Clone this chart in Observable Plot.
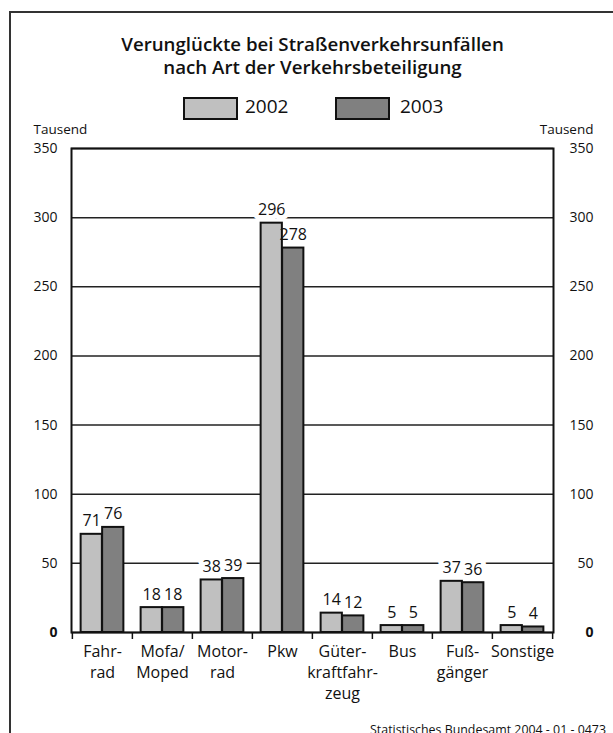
<!DOCTYPE html>
<html>
<head>
<meta charset="utf-8">
<script src="https://cdn.jsdelivr.net/npm/d3@7"></script>
<script src="https://cdn.jsdelivr.net/npm/@observablehq/plot@0.6"></script>
<style>
  body { margin: 0; background: #fff; }
  #page { position: relative; width: 613px; height: 733px; overflow: hidden; background: #fff; font-family: "Open Sans", Lato, sans-serif; color: #111; }
  #frame { position: absolute; left: 9px; top: 11px; width: 700px; height: 800px; border: 2px solid #333; }
  #title { position: absolute; top: 32px; left: 6px; width: 613px; text-align: center; font-size: 18.7px; font-weight: 600; line-height: 23px; }
  .swatch { position: absolute; top: 97px; width: 51px; height: 19px; border: 2px solid #111; }
  .legtext { position: absolute; top: 94px; font-size: 19px; line-height: 24px; }
  #chart { position: absolute; left: 0; top: 100px; }
  #caption { position: absolute; right: 7px; top: 722px; font-size: 12.4px; line-height: 15px; }
</style>
</head>
<body>
<div id="page">
  <div id="frame"></div>
  <div id="title">Verunglückte bei Straßenverkehrsunfällen<br>nach Art der Verkehrsbeteiligung</div>
  <div id="legend"></div>
  <div id="chart"></div>
  <div id="caption">Statistisches Bundesamt 2004 - 01 - 0473</div>
</div>
<script>
// Injured persons in road traffic accidents, by type of participation (thousands)
const categories = ["Fahrrad", "Mofa/Moped", "Motorrad", "Pkw", "Güterkraftfahrzeug", "Bus", "Fußgänger", "Sonstige"];
const tickLabels = ["Fahr-\nrad", "Mofa/\nMoped", "Motor-\nrad", "Pkw", "Güter-\nkraftfahr-\nzeug", "Bus", "Fuß-\ngänger", "Sonstige"];
const years = ["2002", "2003"];
const values2002 = [71, 18, 38, 296, 14, 5, 37, 5];
const values2003 = [76, 18, 39, 278, 12, 5, 36, 4];
const yTicks = [0, 50, 100, 150, 200, 250, 300, 350];
const yearColors = ["#c0c0c0", "#808080"];
const unitLabel = "Tausend";

const rows2002 = categories.map((c, i) => ({category: c, year: years[0], value: values2002[i]}));
const rows2003 = categories.map((c, i) => ({category: c, year: years[1], value: values2003[i]}));
const labelOf = new Map(categories.map((c, i) => [c, tickLabels[i]]));

// legend
const legend = document.getElementById("legend");
const legendPos = [{box: 183, text: 245}, {box: 335, text: 400}];
years.forEach((y, i) => {
  const sw = document.createElement("div");
  sw.className = "swatch";
  sw.style.left = legendPos[i].box + "px";
  sw.style.background = yearColors[i];
  legend.appendChild(sw);
  const t = document.createElement("div");
  t.className = "legtext";
  t.style.left = legendPos[i].text + "px";
  t.textContent = y;
  legend.appendChild(t);
});

const W = 613, H = 618;
const mL = 71, mR = 60, mT = 48, mB = 86;
const band = (W - mL - mR) / categories.length;
const half = band / 2;
const barW = 21.5;
const off = barW / 2;
const font = "'Open Sans', Lato, sans-serif";
const tickFont = 14;

const bar = (data) => Plot.barY(data, {
  x: "category", y: "value", fill: "year",
  stroke: "#111", strokeWidth: 2,
  insetLeft: data === rows2002 ? half - barW : half,
  insetRight: data === rows2002 ? half : half - barW
});
const label = (data, halo) => Plot.text(data, {
  x: "category", y: "value", text: (d) => String(d.value),
  dx: data === rows2002 ? -off : off, dy: -8, lineAnchor: "bottom",
  fontSize: 16, fill: halo ? "white" : "#111",
  stroke: halo ? "white" : null, strokeWidth: halo ? 10 : null
});
const yAxis = (anchor, ticks, bold) => Plot.axisY({
  anchor, ticks, tickSize: 0, label: null, fontSize: tickFont,
  tickPadding: anchor === "left" ? 14 : 40,
  textAnchor: "end",
  fontWeight: bold ? "bold" : null
});

const chart = Plot.plot({
  width: W, height: H,
  marginLeft: mL, marginRight: mR, marginTop: mT, marginBottom: mB,
  style: {fontFamily: font, color: "#111", background: "transparent"},
  x: {type: "band", domain: categories, padding: 0, axis: null},
  y: {domain: [0, 350], axis: null},
  color: {domain: years, range: yearColors},
  marks: [
    Plot.ruleY(yTicks, {stroke: "#222", strokeWidth: 1.5}),
    label(rows2002, true),
    label(rows2003, true),
    Plot.frame({stroke: "#111", strokeWidth: 2}),
    bar(rows2002),
    bar(rows2003),
    label(rows2002, false),
    label(rows2003, false),
    // y tick labels on both sides, zero in bold
    yAxis("left", yTicks.filter((t) => t !== 0), false),
    yAxis("left", [0], true),
    yAxis("right", yTicks.filter((t) => t !== 0), false),
    yAxis("right", [0], true),
    // category separators below the baseline
    Plot.axisX({anchor: "bottom", tickSize: 7, strokeWidth: 1.5, tickFormat: () => "", dx: -half, label: null}),
    Plot.axisX({anchor: "bottom", ticks: [categories[categories.length - 1]], tickSize: 7, strokeWidth: 1.5, tickFormat: () => "", dx: half, label: null}),
    // category names
    Plot.axisX({anchor: "bottom", tickSize: 0, tickPadding: 9, fontSize: 16, lineHeight: 1.32, tickFormat: (c) => labelOf.get(c), label: null}),
    // unit labels
    Plot.text([unitLabel], {frameAnchor: "top-left", textAnchor: "start", lineAnchor: "bottom", dx: -38, dy: -15, fontSize: 13.5, fill: "#111"}),
    Plot.text([unitLabel], {frameAnchor: "top-right", textAnchor: "end", lineAnchor: "bottom", dx: 40, dy: -15, fontSize: 13.5, fill: "#111"})
  ]
});
document.getElementById("chart").appendChild(chart);
</script>
</body>
</html>
